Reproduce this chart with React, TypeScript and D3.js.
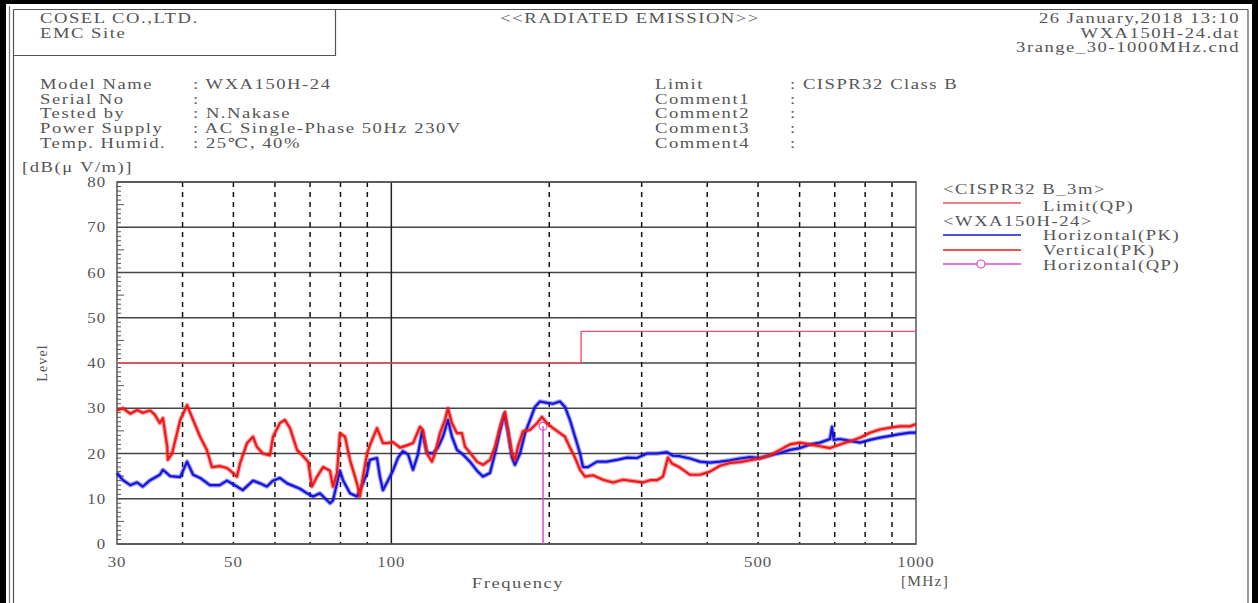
import React from "react";
import * as d3 from "d3";

// ---- data ----
const yTicks = [0, 10, 20, 30, 40, 50, 60, 70, 80];
const xTickLabels = [30, 50, 100, 500, 1000];
const xDashedGrid = [40, 50, 60, 70, 80, 90, 200, 300, 400, 500, 600, 700, 800, 900];
const xSolidGrid = [100];

// Limit (QP) CISPR32 Class B 3m
const limitQP: [number, number][] = [
  [30, 40], [230, 40], [230, 47], [1000, 47],
];

// Horizontal (PK) trace [MHz, dBuV/m]
const horizontalPK: [number, number][] = [
  [30, 15.7], [30.8, 14.1], [31.8, 13.0], [32.75, 13.6], [33.6, 12.7], [34.7, 14.1], [36.2, 15.3],
  [36.7, 16.4], [37.9, 15.0], [39.6, 14.8], [40.8, 18.2], [41.9, 15.3], [43.2, 14.6], [45.1, 13.0],
  [47.1, 13.0], [48.6, 14.0], [50.8, 12.7], [52.1, 11.9], [54.5, 14.0], [56.2, 13.4], [57.9, 12.7],
  [59.5, 14.0], [61.3, 14.6], [63.3, 13.4], [67.0, 12.2], [69.1, 11.2], [70.9, 10.5], [73.1, 11.2],
  [76.4, 9.0], [77.4, 9.6], [79.8, 16.2], [80.9, 14.1], [83.4, 11.2], [86.0, 10.5], [88.3, 13.4],
  [89.9, 15.7], [91.0, 18.6], [93.9, 19.0], [95.1, 14.9], [96.4, 11.9], [98.5, 14.0], [100.7, 16.2],
  [103.0, 19.1], [105.2, 20.5], [107.6, 19.8], [110.0, 16.4], [112.4, 19.8], [114.4, 24.9],
  [116.9, 20.2], [120.0, 20.0], [122.7, 21.3], [125.4, 23.7], [128.2, 27.4], [130.5, 23.7],
  [133.4, 20.8], [136.9, 19.8], [141.2, 18.2], [145.6, 16.2], [149.5, 14.9], [154.2, 15.7],
  [157.6, 20.0], [161.1, 24.9], [164.0, 28.7], [166.8, 24.9], [169.8, 19.1], [172.0, 17.5],
  [175.9, 20.0], [179.8, 24.5], [183.8, 27.4], [187.8, 30.3], [192.0, 31.5], [198.0, 31.2],
  [203.3, 31.0], [209.6, 31.5], [214.3, 30.3], [219.0, 27.4], [223.9, 23.7], [228.9, 20.0],
  [231.9, 17.0], [237.0, 17.0], [246.6, 18.2], [257.7, 18.2], [269.2, 18.6], [281.3, 19.1],
  [293.8, 19.0], [307.1, 20.0], [320.8, 20.0], [335.2, 20.3], [344.2, 19.5], [354.9, 19.4],
  [370.9, 18.9], [387.5, 18.2], [404.9, 18.0], [423.0, 18.2], [442.0, 18.5], [461.9, 18.9],
  [482.6, 19.2], [504.3, 19.0], [526.9, 19.6], [550.6, 20.1], [575.1, 20.8], [601.0, 21.2],
  [628.0, 22.0], [656.1, 22.4], [685.6, 23.2], [691.6, 25.9], [697.0, 23.0], [716.3, 23.2],
  [748.4, 22.8], [782.0, 22.4], [817.0, 23.0], [853.7, 23.5], [891.9, 23.9], [932.0, 24.3],
  [973.8, 24.6], [1000, 24.6],
];

// Vertical (PK) trace [MHz, dBuV/m]
const verticalPK: [number, number][] = [
  [30, 29.5], [30.8, 30.0], [31.8, 28.8], [32.75, 29.6], [33.6, 29.0], [34.7, 29.5], [35.4, 28.6],
  [36.2, 26.7], [36.7, 27.8], [37.4, 21.5], [37.5, 18.6], [38.2, 20.0], [39.6, 27.4], [40.8, 30.7],
  [41.9, 27.4], [43.2, 23.7], [44.5, 20.8], [45.5, 17.0], [47.1, 17.2], [48.6, 16.8], [49.9, 15.7],
  [50.8, 14.9], [51.5, 17.9], [53.1, 22.3], [54.5, 23.7], [55.4, 21.5], [56.9, 20.0], [58.7, 19.6],
  [59.5, 23.7], [61.3, 26.7], [62.7, 27.4], [64.1, 25.6], [66.1, 20.8], [67.9, 19.4], [69.4, 18.2],
  [70.6, 12.7], [72.2, 14.9], [74.1, 17.0], [76.4, 16.2], [77.4, 12.7], [78.8, 15.7], [79.8, 24.5],
  [81.6, 23.7], [83.4, 18.6], [86.0, 13.4], [87.1, 10.5], [88.3, 14.9], [89.9, 20.0], [91.0, 21.8],
  [93.9, 25.6], [96.4, 22.3], [98.1, 22.3], [100.7, 22.5], [103.9, 21.3], [107.1, 21.8],
  [110.0, 22.3], [113.4, 25.9], [114.9, 25.2], [116.9, 20.0], [119.5, 18.2], [121.1, 20.0],
  [123.8, 24.5], [126.5, 27.4], [128.2, 30.0], [130.5, 26.7], [133.4, 24.5], [136.3, 24.5],
  [138.2, 21.5], [141.2, 20.2], [145.6, 18.2], [149.5, 17.5], [154.2, 18.6], [157.6, 21.5],
  [161.1, 25.9], [164.7, 29.2], [166.8, 25.2], [169.8, 20.0], [172.0, 18.6], [174.3, 21.5],
  [178.2, 24.9], [183.8, 25.2], [189.5, 26.7], [193.7, 28.1], [198.0, 26.7], [203.3, 25.6],
  [209.6, 24.5], [214.3, 23.7], [219.0, 21.3], [223.9, 19.1], [228.9, 16.4], [233.9, 14.9],
  [242.3, 15.2], [253.1, 14.2], [264.5, 13.6], [276.4, 14.2], [288.8, 13.9], [301.7, 13.6],
  [311.1, 14.1], [320.8, 14.1], [329.4, 14.9], [336.7, 19.1], [342.7, 17.8], [354.9, 16.9],
  [370.9, 15.3], [387.5, 15.3], [404.9, 16.0], [423.0, 17.3], [442.0, 17.9], [461.9, 18.1],
  [482.6, 18.5], [504.3, 18.9], [526.9, 19.6], [550.6, 20.8], [575.1, 22.0], [601.0, 22.4],
  [628.0, 22.0], [656.1, 21.6], [685.6, 21.2], [716.3, 22.0], [748.4, 22.7], [782.0, 23.5],
  [817.0, 24.6], [853.7, 25.3], [891.9, 25.7], [932.0, 26.0], [973.8, 26.0], [1000, 26.5],
];

// Horizontal (QP) measured point
const horizontalQP: [number, number][] = [[194.6, 26.0]];

const infoLeftLabels = ["Model Name", "Serial No", "Tested by", "Power Supply", "Temp. Humid."];
const infoLeftValues = [": WXA150H-24", ":", ": N.Nakase", ": AC Single-Phase 50Hz 230V", ": 25\u2103, 40%"];
const infoRightLabels = ["Limit", "Comment1", "Comment2", "Comment3", "Comment4"];
const infoRightValues = [": CISPR32 Class B", ":", ":", ":", ":"];
const headerRight = ["26 January,2018 13:10", "WXA150H-24.dat", "3range_30-1000MHz.cnd"];

// ---- styles ----
const TXT = "#555";
const FONT = "'Liberation Serif', 'DejaVu Serif', serif";
const C_LIMIT = "#f0506a";
const C_H = "#1414e0";
const C_V = "#f01818";
const C_QP = "#d84ad8";
const SX = 1.33;

export default function App() {
  const W = 1258, H = 603;
  const x = d3.scaleLog().domain([30, 1000]).range([117, 916]);
  const y = d3.scaleLinear().domain([0, 80]).range([544, 182]);
  const line = d3.line<[number, number]>().x(d => x(d[0])).y(d => y(d[1]));
  const [x0, x1] = x.range();
  const [yb, yt] = y.range();
  const minor = d3.range(1, 80).filter(v => v % 10 !== 0);

  const txt = (px: number, py: number, s: string, opts: any = {}) => (
    <text
      key={opts.key ?? s + px + py}
      transform={`translate(${px},${py}) ${opts.rotate ? `rotate(${opts.rotate})` : ""} scale(${opts.sx ?? SX},1)`}
      fontFamily={FONT}
      fill={TXT}
      fontSize={opts.size ?? 14}
      letterSpacing={opts.ls ?? 1.15}
      textAnchor={opts.anchor ?? "start"}
    >
      {s}
    </text>
  );

  return (
    <svg width={W} height={H} style={{ position: "absolute", left: 0, top: 0, background: "#fff" }}>
      {/* frame */}
      <rect x={0} y={0} width={W} height={H} fill="#fff" />
      <rect x={0} y={0} width={6} height={H} fill="#000" />
      <rect x={0} y={0} width={W} height={4} fill="#000" />
      <rect x={W - 6} y={0} width={6} height={H} fill="#000" />
      <line x1={9.5} y1={6} x2={9.5} y2={H} stroke="#777" strokeWidth={1.2} />
      <line x1={13.5} y1={9.5} x2={13.5} y2={H} stroke="#555" strokeWidth={1.2} />
      <line x1={13.5} y1={9.5} x2={1248} y2={9.5} stroke="#555" strokeWidth={1.2} />
      <line x1={1248} y1={9.5} x2={1248} y2={H} stroke="#555" strokeWidth={1.2} />
      <path d={`M13.5,55.5 H335.5 V9.5`} fill="none" stroke="#555" strokeWidth={1.2} />

      {/* header */}
      {txt(40, 23, "COSEL CO.,LTD.")}
      {txt(40, 38, "EMC Site")}
      {txt(630, 23, "<<RADIATED EMISSION>>", { anchor: "middle" })}
      {headerRight.map((s, i) => txt(1240, 23 + i * 14.5, s, { anchor: "end" }))}
      {infoLeftLabels.map((s, i) => txt(40, 89 + i * 14.7, s))}
      {infoLeftValues.map((s, i) => txt(193, 89 + i * 14.7, s, { key: "v" + i }))}
      {infoRightLabels.map((s, i) => txt(655, 89 + i * 14.7, s))}
      {infoRightValues.map((s, i) => txt(790, 89 + i * 14.7, s, { key: "r" + i }))}
      {txt(22, 172, "[dB(\u03bc V/m)]")}

      {/* grid */}
      {yTicks.map(v => (
        <line key={"h" + v} x1={x0} x2={x1} y1={y(v)} y2={y(v)} stroke="#444" strokeWidth={1.3} />
      ))}
      {minor.map(v => (
        <line key={"m" + v} x1={x0} x2={x0 + (v % 5 === 0 ? 7 : 4)} y1={y(v)} y2={y(v)} stroke="#555" strokeWidth={1} />
      ))}
      {xDashedGrid.map(f => (
        <line key={"d" + f} x1={x(f)} x2={x(f)} y1={yt} y2={yb} stroke="#111" strokeWidth={1.5} strokeDasharray="5,5" />
      ))}
      {xSolidGrid.map(f => (
        <line key={"s" + f} x1={x(f)} x2={x(f)} y1={yt} y2={yb} stroke="#222" strokeWidth={1.5} />
      ))}
      <rect x={x0} y={yt} width={x1 - x0} height={yb - yt} fill="none" stroke="#555" strokeWidth={1.5} />

      {/* tick labels */}
      {yTicks.map(v => txt(106, y(v) + 5, String(v), { anchor: "end", key: "yl" + v, ls: 0.8, sx: 1.2 }))}
      {xTickLabels.map(f => txt(x(f), 567, String(f), { anchor: "middle", key: "xl" + f, ls: 0.8, sx: 1.2 }))}
      {txt(518, 588, "Frequency", { anchor: "middle" })}
      {txt(925, 586, "[MHz]", { anchor: "middle", sx: 1.1 })}
      {txt(47, 363, "Level", { anchor: "middle", rotate: -90, sx: 1 })}

      {/* data */}
      <path d={line(limitQP) || ""} fill="none" stroke={C_LIMIT} strokeWidth={1.4} />
      {horizontalQP.map((d, i) => (
        <g key={"qp" + i}>
          <line x1={x(d[0])} x2={x(d[0])} y1={yb} y2={y(d[1])} stroke={C_QP} strokeWidth={1.5} />
          <circle cx={x(d[0])} cy={y(d[1])} r={4} fill="none" stroke={C_QP} strokeWidth={1.2} />
        </g>
      ))}
      <path d={line(horizontalPK) || ""} fill="none" stroke={C_H} strokeOpacity={0.4} strokeWidth={4.5} strokeLinejoin="round" />
      <path d={line(horizontalPK) || ""} fill="none" stroke={C_H} strokeWidth={2.2} strokeLinejoin="round" />
      <path d={line(verticalPK) || ""} fill="none" stroke={C_V} strokeOpacity={0.4} strokeWidth={4.5} strokeLinejoin="round" />
      <path d={line(verticalPK) || ""} fill="none" stroke={C_V} strokeWidth={2.2} strokeLinejoin="round" />

      {/* legend */}
      {txt(943, 194, "<CISPR32 B_3m>")}
      <line x1={943} x2={1021} y1={203} y2={203} stroke={C_LIMIT} strokeWidth={1.4} />
      {txt(1043, 211, "Limit(QP)")}
      {txt(943, 226, "<WXA150H-24>")}
      <line x1={943} x2={1021} y1={235} y2={235} stroke={C_H} strokeWidth={1.4} />
      {txt(1043, 240, "Horizontal(PK)")}
      <line x1={943} x2={1021} y1={250} y2={250} stroke={C_V} strokeWidth={1.4} />
      {txt(1043, 255, "Vertical(PK)")}
      <line x1={943} x2={1021} y1={264} y2={264} stroke={C_QP} strokeWidth={1.4} />
      <circle cx={981} cy={264} r={4} fill="#fff" stroke={C_QP} strokeWidth={1.2} />
      {txt(1043, 270, "Horizontal(QP)")}
    </svg>
  );
}
